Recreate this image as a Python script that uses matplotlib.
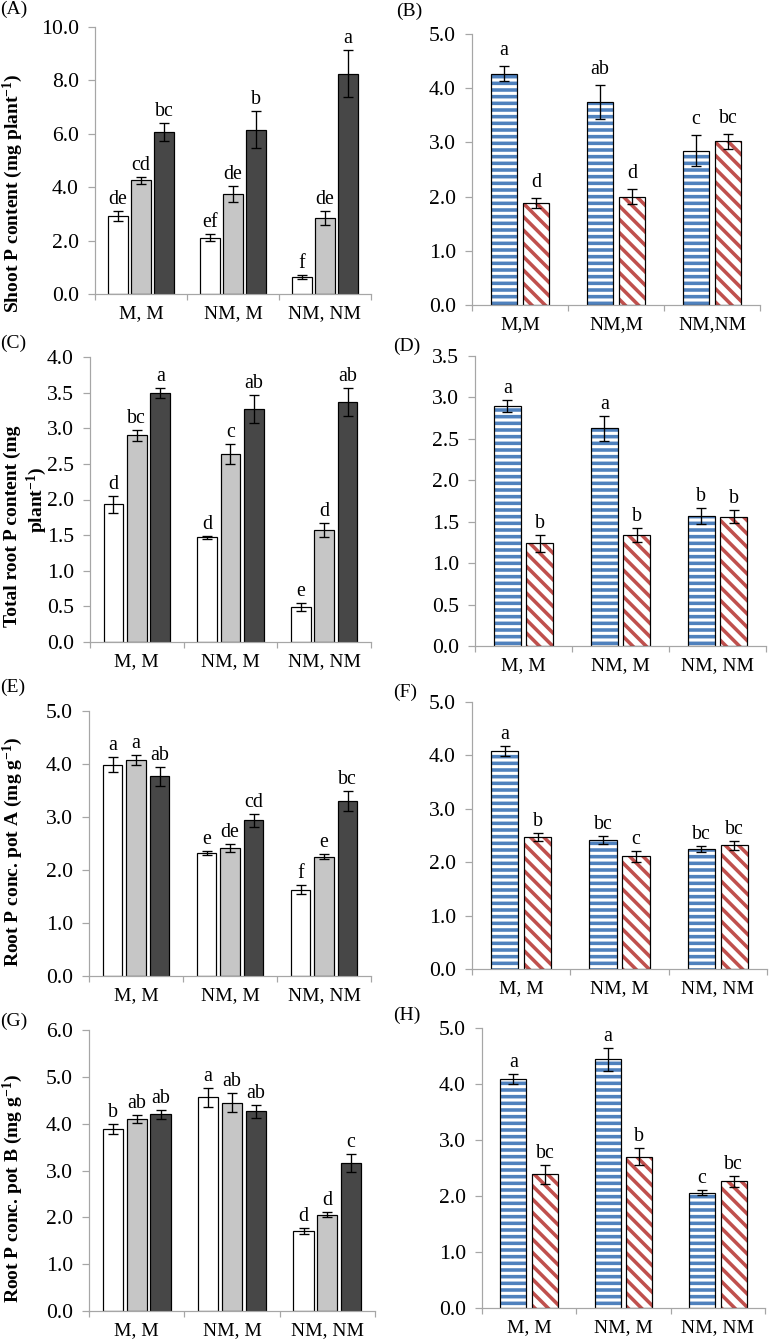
import numpy as np
import matplotlib
matplotlib.use("Agg")
import matplotlib.pyplot as plt
from matplotlib.ticker import FormatStrFormatter

plt.rcParams['font.family'] = ['Liberation Serif', 'DejaVu Serif']
plt.rcParams['mathtext.default'] = 'regular'
plt.rcParams['hatch.linewidth'] = 3.2

# -------------------------------
# Data
# rows = bars inside each group, columns = M,M / NM,M / NM,NM
# -------------------------------
groups = ["M, M", "NM, M", "NM, NM"]
groups_b = ["M,M", "NM,M", "NM,NM"]

# (A) shoot P content: white, grey, dark
a_vals = [[2.92, 2.11, 0.64], [4.26, 3.74, 2.86], [6.07, 6.16, 8.25]]
a_err = [[0.20, 0.12, 0.06], [0.14, 0.30, 0.26], [0.35, 0.70, 0.89]]
a_let = [["de", "ef", "f"], ["cd", "de", "de"], ["bc", "b", "a"]]

# (B) blue / red
b_vals = [[4.27, 3.74, 2.85], [1.88, 2.00, 3.02]]
b_err = [[0.135, 0.31, 0.28], [0.09, 0.135, 0.14]]
b_let = [["a", "ab", "c"], ["d", "d", "bc"]]

# (C) total root P content
c_vals = [[1.93, 1.47, 0.49], [2.90, 2.64, 1.57], [3.50, 3.27, 3.37]]
c_err = [[0.12, 0.02, 0.055], [0.075, 0.145, 0.10], [0.07, 0.20, 0.20]]
c_let = [["d", "d", "e"], ["bc", "c", "d"], ["a", "ab", "ab"]]

# (D)
d_vals = [[2.90, 2.63, 1.57], [1.24, 1.34, 1.56]]
d_err = [[0.07, 0.15, 0.10], [0.10, 0.09, 0.08]]
d_let = [["a", "a", "b"], ["b", "b", "b"]]

# (E) root P conc. pot A
e_vals = [[3.99, 2.32, 1.63], [4.08, 2.42, 2.25], [3.77, 2.94, 3.30]]
e_err = [[0.14, 0.045, 0.08], [0.09, 0.075, 0.05], [0.18, 0.125, 0.19]]
e_let = [["a", "e", "f"], ["a", "de", "e"], ["ab", "cd", "bc"]]

# (F)
f_vals = [[4.08, 2.42, 2.25], [2.47, 2.11, 2.32]]
f_err = [[0.09, 0.075, 0.06], [0.075, 0.10, 0.085]]
f_let = [["a", "bc", "bc"], ["b", "c", "bc"]]

# (G) root P conc. pot B
g_vals = [[3.89, 4.56, 1.71], [4.10, 4.45, 2.06], [4.20, 4.26, 3.16]]
g_err = [[0.10, 0.21, 0.06], [0.08, 0.21, 0.05], [0.09, 0.14, 0.19]]
g_let = [["b", "a", "d"], ["ab", "ab", "d"], ["ab", "ab", "c"]]

# (H)
h_vals = [[4.09, 4.44, 2.06], [2.39, 2.70, 2.26]]
h_err = [[0.095, 0.20, 0.05], [0.17, 0.15, 0.095]]
h_let = [["a", "a", "c"], ["bc", "b", "bc"]]

# -------------------------------
# Figure set-up (pixel based layout)
# -------------------------------
W, H = 769, 1342
DPI = 80
fig = plt.figure(figsize=(W / DPI, H / DPI), dpi=DPI)

grey_solid = ["#FFFFFF", "#C6C6C6", "#474747"]
blue = "#4F81BD"
red = "#C0504D"
axis_grey = "#A6A6A6"


def make_axes(x0, x1, ytop, ybot, ymax, step, labels):
    ax = fig.add_axes([x0 / W, 1 - ybot / H, (x1 - x0) / W, (ybot - ytop) / H])
    ax.set_xlim(-0.5, 2.5)
    ax.set_ylim(0, ymax)
    ax.set_yticks(np.arange(0, ymax + step / 2, step))
    ax.yaxis.set_major_formatter(FormatStrFormatter('%.1f'))
    for s in ["top", "right"]:
        ax.spines[s].set_visible(False)
    for s in ["left", "bottom"]:
        ax.spines[s].set_color(axis_grey)
        ax.spines[s].set_linewidth(1.1)
    ax.tick_params(axis='y', direction='out', length=6.5, width=1.1,
                   color=axis_grey, labelsize=19.5, pad=8)
    ax.set_xticks([0, 1, 2])
    ax.set_xticklabels(labels)
    ax.set_xticks([-0.5, 0.5, 1.5, 2.5], minor=True)
    ax.tick_params(axis='x', which='major', length=0, labelsize=17.5, pad=10)
    ax.tick_params(axis='x', which='minor', direction='out', length=5.5,
                   width=1.1, color=axis_grey)
    ax.set_facecolor('none')
    return ax


def put_letters(ax, xs, vals, errs, lets, off):
    for x, v, e, t in zip(xs, vals, errs, lets):
        ax.annotate(t, (x, v + e), xytext=(0, off), textcoords='offset points',
                    ha='center', va='baseline', fontsize=18)


def three_bars(ax, vals, errs, lets, off=6.3):
    x = np.arange(3)
    for i, shift in enumerate([-0.25, 0, 0.25]):
        ax.bar(x + shift, vals[i], 0.21, color=grey_solid[i], edgecolor='black',
               linewidth=1.1, zorder=2)
        ax.errorbar(x + shift, vals[i], yerr=errs[i], fmt='none', ecolor='black',
                    elinewidth=1.2, capsize=4.2, capthick=1.2, zorder=3)
        put_letters(ax, x + shift, vals[i], errs[i], lets[i], off)


def two_bars(ax, vals, errs, lets, off=6.3):
    x = np.arange(3)
    styles = [(blue, '--'), (red, '\\\\')]
    for i, shift in enumerate([-0.168, 0.168]):
        col, hatch = styles[i]
        ax.bar(x + shift, vals[i], 0.275, facecolor='white', edgecolor=col,
               hatch=hatch, linewidth=0, zorder=2)
        ax.bar(x + shift, vals[i], 0.275, fill=False, edgecolor='black',
               linewidth=1.1, zorder=2.5)
        ax.errorbar(x + shift, vals[i], yerr=errs[i], fmt='none', ecolor='black',
                    elinewidth=1.2, capsize=4.2, capthick=1.2, zorder=3)
        put_letters(ax, x + shift, vals[i], errs[i], lets[i], off)


# -------------------------------
# Panels
# -------------------------------
ax = make_axes(95, 371, 27, 294, 10, 2, groups)
three_bars(ax, a_vals, a_err, a_let)

ax = make_axes(472, 760, 34, 305, 5, 1, groups_b)
two_bars(ax, b_vals, b_err, b_let, off=9.9)

ax = make_axes(90, 371, 357, 642, 4, 0.5, groups)
three_bars(ax, c_vals, c_err, c_let)

ax = make_axes(475, 766, 356, 646, 3.5, 0.5, groups)
two_bars(ax, d_vals, d_err, d_let)

ax = make_axes(89, 371, 711, 976, 5, 1, groups)
three_bars(ax, e_vals, e_err, e_let)

ax = make_axes(472, 767, 702, 969, 5, 1, groups)
two_bars(ax, f_vals, f_err, f_let)

ax = make_axes(89, 375, 1030, 1311, 6, 1, groups)
three_bars(ax, g_vals, g_err, g_let)

ax = make_axes(482, 765, 1028, 1308, 5, 1, groups)
two_bars(ax, h_vals, h_err, h_let)

# panel letters
for lab, x, y in [("(A)", 0, 9), ("(B)", 396, 11), ("(C)", 0, 343), ("(D)", 393, 346),
                  ("(E)", 0, 687), ("(F)", 393, 692), ("(G)", 0, 1021), ("(H)", 393, 1015)]:
    fig.text(x / W, 1 - y / H, lab, ha='left', va='center', fontsize=17.5)

# y axis titles
ylab_kw = dict(rotation=90, ha='center', va='center', fontsize=17.5, fontweight='bold')
fig.text(13 / W, 1 - 193 / H, "Shoot P content (mg plant$^{-1}$)", **ylab_kw)
fig.text(12 / W, 1 - 526 / H, "Total root P content (mg", **ylab_kw)
fig.text(37 / W, 1 - 500 / H, "plant$^{-1}$)", **ylab_kw)
fig.text(13 / W, 1 - 852 / H, "Root P conc. pot A (mg g$^{-1}$)", **ylab_kw)
fig.text(13 / W, 1 - 1188 / H, "Root P conc. pot B (mg g$^{-1}$)", **ylab_kw)

fig.savefig("out.png", dpi=DPI)
